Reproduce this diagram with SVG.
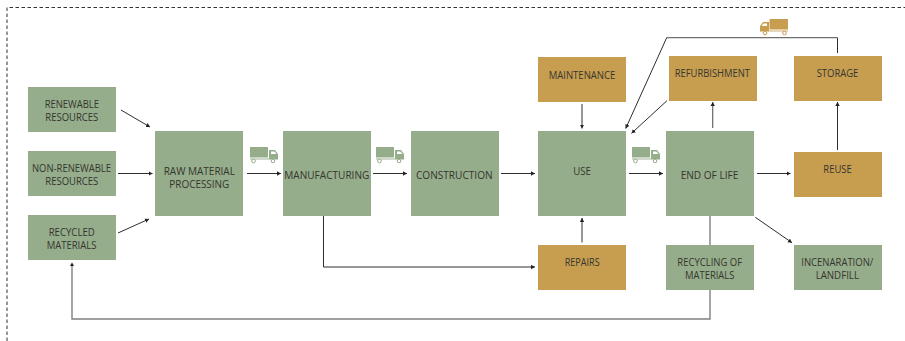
<svg xmlns="http://www.w3.org/2000/svg" width="905" height="341" viewBox="0 0 905 341">
<style>
.g{fill:#95ad8b}.o{fill:#c79e4f}
text{font-family:"Open Sans","Noto Sans","Liberation Sans",sans-serif;font-size:10.200px;fill:#35352f;text-anchor:middle}
.c{fill:none;stroke:#2e2e2e;stroke-width:1;marker-end:url(#a)}
.t{fill:none;stroke:#808080;stroke-width:1.400}
</style>
<defs>
<marker id="a" markerUnits="userSpaceOnUse" markerWidth="5" markerHeight="5" refX="4" refY="2.500" orient="auto"><path d="M0 0.300L4 2.500L0 4.700z" fill="#222"/></marker>
<symbol id="tg" viewBox="0 0 28 16" overflow="visible"><path d="M0 0H18V10.500H0z" fill="#95ad8b"/><path d="M19 3H25L28 7V12.500H19z" fill="#95ad8b"/><path d="M21 4.500H24.500L26.500 7H21z" fill="#fff"/><path d="M0 12H19" stroke="#b5c6ad" stroke-width="1.300"/><circle cx="3.500" cy="14" r="1.800" fill="#fff" stroke="#95ad8b"/><circle cx="23" cy="14" r="1.800" fill="#fff" stroke="#95ad8b"/></symbol>
<symbol id="to" viewBox="0 0 28 16" overflow="visible"><path d="M9.500 0H28V10.500H9.500z" fill="#c79e4f"/><path d="M9 3H3L0 7V12.500H9z" fill="#c79e4f"/><path d="M7 4.500H3.500L1.500 7H7z" fill="#fff"/><path d="M9 12H28" stroke="#dcc28e" stroke-width="1.300"/><circle cx="5" cy="14" r="1.800" fill="#fff" stroke="#c79e4f"/><circle cx="24.500" cy="14" r="1.800" fill="#fff" stroke="#c79e4f"/></symbol>
</defs>
<rect width="905" height="341" fill="#fff"/>
<path d="M7 341V7.500H905" fill="none" stroke="#333" stroke-width="1" stroke-dasharray="3.500 2.500"/>
<g id="connectors">
<path class="c" d="M121 110L150 127"/>
<path class="c" d="M118 173.500H152.500"/>
<path class="c" d="M118 233L149 219"/>
<path class="c" d="M247 173.500H281"/>
<path class="c" d="M373 173.500H407"/>
<path class="c" d="M501 173.500H535"/>
<path class="c" d="M629 173.500H663"/>
<path class="c" d="M757 173.500H790.500"/>
<path class="c" d="M323.500 216V267H535"/>
<path class="c" d="M582 104V128.500"/>
<path class="c" d="M582 242.500V218"/>
<path class="c" d="M712.700 128V102" style="stroke:#666;stroke-width:1.200"/>
<path class="c" d="M837.500 150V102"/>
<path class="c" d="M667 100.700L631.500 133.300"/>
<path d="M837.500 53V37.700" fill="none" stroke="#2e2e2e"/>
<path d="M837.500 37.700H666.700" fill="none" stroke="#707070" stroke-width="1.300"/>
<path class="c" d="M666.700 37.700L625.700 128.500"/>
<path class="c" d="M755.300 217.300L792 242.700"/>
<path class="t" d="M710 216V245M710 290V319H72V264"/>
<path d="M72 262.500L70 266H74z" fill="#222"/>
</g>
<g id="n1"><rect class="g" x="28" y="87" width="88" height="45"/><text x="71.800" y="108" textLength="54.300" lengthAdjust="spacingAndGlyphs">RENEWABLE</text><text x="71.800" y="121" textLength="53" lengthAdjust="spacingAndGlyphs">RESOURCES</text></g>
<g id="n2"><rect class="g" x="28" y="151" width="88" height="45"/><text x="71.500" y="172" textLength="79" lengthAdjust="spacingAndGlyphs">NON-RENEWABLE</text><text x="71.800" y="185" textLength="53" lengthAdjust="spacingAndGlyphs">RESOURCES</text></g>
<g id="n3"><rect class="g" x="28" y="215" width="88" height="45"/><text x="71.700" y="236" textLength="46" lengthAdjust="spacingAndGlyphs">RECYCLED</text><text x="71.500" y="249" textLength="49.700" lengthAdjust="spacingAndGlyphs">MATERIALS</text></g>
<g id="n4"><rect class="g" x="155" y="131" width="88" height="85"/><text x="199.300" y="175" textLength="71.300" lengthAdjust="spacingAndGlyphs">RAW MATERIAL</text><text x="199.300" y="188" textLength="60" lengthAdjust="spacingAndGlyphs">PROCESSING</text></g>
<g id="n5"><rect class="g" x="283" y="131" width="88" height="85"/><text x="326.800" y="179" textLength="85" lengthAdjust="spacingAndGlyphs">MANUFACTURING</text></g>
<g id="n6"><rect class="g" x="411" y="131" width="88" height="85"/><text x="454.300" y="179" textLength="76.700" lengthAdjust="spacingAndGlyphs">CONSTRUCTION</text></g>
<g id="n7"><rect class="g" x="538" y="131" width="88" height="85"/><text x="582" y="175" textLength="17.700" lengthAdjust="spacingAndGlyphs">USE</text></g>
<g id="n8"><rect class="g" x="666" y="131" width="88" height="85"/><text x="709.500" y="179" textLength="57.700" lengthAdjust="spacingAndGlyphs">END OF LIFE</text></g>
<g id="n9"><rect class="o" x="538" y="57" width="88" height="45"/><text x="582" y="79" textLength="66.700" lengthAdjust="spacingAndGlyphs">MAINTENANCE</text></g>
<g id="n10"><rect class="o" x="669" y="56" width="88" height="45"/><text x="712.300" y="77" textLength="75.300" lengthAdjust="spacingAndGlyphs">REFURBISHMENT</text></g>
<g id="n11"><rect class="o" x="794" y="56" width="88" height="45"/><text x="837.500" y="77" textLength="41.700" lengthAdjust="spacingAndGlyphs">STORAGE</text></g>
<g id="n12"><rect class="o" x="794" y="152" width="88" height="45"/><text x="837.500" y="173" textLength="28.400" lengthAdjust="spacingAndGlyphs">REUSE</text></g>
<g id="n13"><rect class="o" x="538" y="245" width="88" height="45"/><text x="582.200" y="266" textLength="35" lengthAdjust="spacingAndGlyphs">REPAIRS</text></g>
<g id="n14"><rect class="g" x="666" y="245" width="88" height="45"/><text x="709.700" y="266" textLength="64.700" lengthAdjust="spacingAndGlyphs">RECYCLING OF</text><text x="709.700" y="279" textLength="49.300" lengthAdjust="spacingAndGlyphs">MATERIALS</text></g>
<g id="n15"><rect class="g" x="794" y="245" width="88" height="45"/><text x="837.300" y="266" textLength="72" lengthAdjust="spacingAndGlyphs">INCENARATION/</text><text x="837.300" y="279" textLength="43.300" lengthAdjust="spacingAndGlyphs">LANDFILL</text></g>
<g id="trucks">
<use href="#tg" x="250" y="147" width="28" height="16"/>
<use href="#tg" x="376" y="147" width="28" height="16"/>
<use href="#tg" x="632" y="147" width="28" height="16"/>
<use href="#to" x="760" y="19" width="28" height="16"/>
</g>
</svg>
